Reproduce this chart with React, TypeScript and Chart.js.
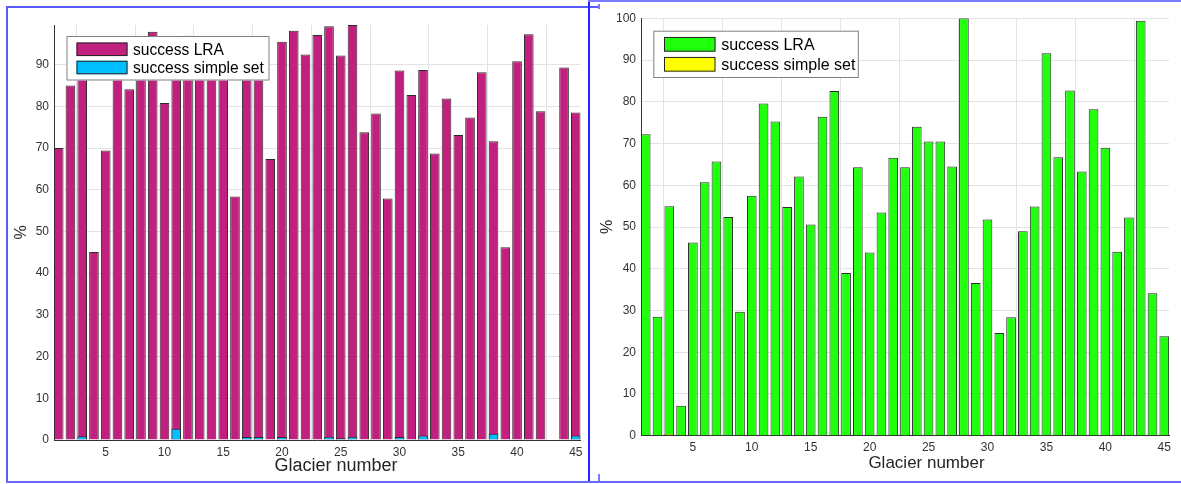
import React, { useEffect, useRef } from "react";
import { Chart, registerables } from "chart.js";

Chart.register(...registerables);

const FONT = '"Liberation Sans", Arial, Helvetica, sans-serif';

// Glacier numbers (x categories)
const glacierNumbers = [
  1, 2, 3, 4, 5, 6, 7, 8, 9, 10, 11, 12, 13, 14, 15, 16, 17, 18, 19, 20, 21, 22, 23,
  24, 25, 26, 27, 28, 29, 30, 31, 32, 33, 34, 35, 36, 37, 38, 39, 40, 41, 42, 43, 44, 45,
];

const seriesLabels = ["success LRA", "success simple set"];

// Left panel
const leftLRA = [
  70.0, 85.0, 92.0, 45.1, 69.4, 93.0, 84.1, 91.0, 97.9, 80.8, 92.0, 96.9, 94.0, 90.0, 92.0,
  58.4, 93.0, 90.0, 67.4, 95.5, 98.1, 92.4, 97.1, 99.2, 92.2, 99.5, 73.8, 78.3, 57.9, 88.6,
  82.7, 88.7, 68.7, 81.9, 73.1, 77.3, 88.2, 71.6, 46.2, 90.8, 97.3, 78.8, 0, 89.3, 78.5,
];
const leftSimple = [
  0, 0, 0.9, 0, 0, 0.2, 0.1, 0, 0, 0, 2.7, 0, 0, 0, 0, 0, 0.7, 0.7, 0, 0.7, 0.2, 0.2, 0,
  0.8, 0.4, 0.8, 0, 0, 0, 0.7, 0.2, 1.1, 0, 0, 0, 0.2, 0, 1.5, 0, 0, 0, 0, 0, 0, 1.1,
];

// Right panel
const rightLRA = [
  72.2, 28.5, 55.0, 7.2, 46.3, 60.7, 65.7, 52.4, 29.7, 57.5, 79.6, 75.3, 54.8, 62.1, 50.6,
  76.4, 82.6, 39.0, 64.3, 43.9, 53.5, 66.6, 64.3, 74.0, 70.5, 70.5, 64.5, 100, 36.6, 51.8,
  24.6, 28.4, 49.0, 54.9, 91.6, 66.7, 82.7, 63.3, 78.2, 69.0, 44.1, 52.3, 99.4, 34.1, 23.8,
];
const rightSimple = [
  0, 0, 0.4, 0, 0, 0, 0, 0, 0, 0, 0.1, 0, 0, 0, 0, 0, 0, 0, 0, 0, 0, 0, 0, 0, 0, 0, 0, 0,
  0, 0, 0.2, 0, 0, 0, 0, 0, 0, 0, 0, 0, 0, 0, 0, 0, 0,
];

const boxLegendPlugin = {
  id: "boxLegend",
  afterDatasetsDraw(chart: any, _args: any, o: any) {
    const ctx = chart.ctx;
    ctx.save();
    ctx.fillStyle = "#ffffff";
    ctx.fillRect(o.x, o.y, o.w, o.h);
    ctx.strokeStyle = "#808080";
    ctx.lineWidth = 1;
    ctx.strokeRect(o.x + 0.5, o.y + 0.5, o.w - 1, o.h - 1);
    chart.data.datasets.forEach((ds: any, i: number) => {
      const cy = o.row0 + i * o.rowStep;
      ctx.fillStyle = ds.backgroundColor;
      ctx.fillRect(o.sx, cy - o.sh / 2, o.sw, o.sh);
      ctx.strokeStyle = "#262626";
      ctx.strokeRect(o.sx + 0.5, cy - o.sh / 2 + 0.5, o.sw - 1, o.sh - 1);
      ctx.fillStyle = "#000000";
      ctx.font = `${o.fs}px ${FONT}`;
      ctx.textBaseline = "middle";
      ctx.textAlign = "left";
      ctx.fillText(ds.label, o.tx, cy + 1);
    });
    ctx.restore();
  },
  afterDraw(chart: any, _args: any, o: any) {
    const ctx = chart.ctx;
    ctx.save();
    ctx.fillStyle = "#262626";
    ctx.font = `${o.xlFs}px ${FONT}`;
    ctx.textAlign = "center";
    ctx.textBaseline = "alphabetic";
    ctx.fillText(o.xlabel, o.xlX, o.xlY);
    ctx.restore();
  },
};

type PanelProps = {
  lra: number[];
  simple: number[];
  lraColor: string;
  simpleColor: string;
  yMax: number;
  width: number;
  height: number;
  area: { left: number; right: number; top: number; bottom: number };
  yTitlePad: number;
  legend: any;
};

function Panel(p: PanelProps) {
  const ref = useRef<HTMLCanvasElement | null>(null);
  useEffect(() => {
    if (!ref.current) return;
    const chart = new Chart(ref.current, {
      type: "bar",
      data: {
        datasets: [
          {
            label: seriesLabels[0],
            data: glacierNumbers.map((g, i) => ({ x: g, y: p.lra[i] })),
            backgroundColor: p.lraColor,
            borderColor: "#2a2a2a",
            borderWidth: 1,
            grouped: false,
            order: 1,
            categoryPercentage: 1,
            barPercentage: 0.82,
          } as any,
          {
            label: seriesLabels[1],
            data: glacierNumbers.map((g, i) => ({ x: g, y: p.simple[i] })),
            backgroundColor: p.simpleColor,
            borderColor: "#2a2a2a",
            borderWidth: 1,
            grouped: false,
            order: 0,
            categoryPercentage: 1,
            barPercentage: 0.82,
          } as any,
        ],
      },
      options: {
        animation: false,
        responsive: false,
        maintainAspectRatio: false,
        devicePixelRatio: 1,
        layout: {
          padding: {
            left: 0,
            top: p.area.top,
            right: p.width - p.area.right,
            bottom: 0,
          },
        },
        plugins: {
          legend: { display: false },
          tooltip: { enabled: false },
          boxLegend: p.legend,
        } as any,
        scales: {
          x: {
            type: "linear",
            min: 0.6,
            max: 45.4,
            offset: false,
            ticks: {
              stepSize: 5,
              includeBounds: false,
              padding: 5,
              color: "#333333",
              font: { size: 12, family: FONT },
              maxRotation: 0,
              autoSkip: false,
            },
            grid: { color: "#e3e3e3", drawTicks: false, lineWidth: 1 },
            border: { display: true, color: "#333333", width: 1 },
            afterFit: (s: any) => {
              s.height = p.height - p.area.bottom;
            },
          } as any,
          y: {
            min: 0,
            max: p.yMax,
            ticks: {
              stepSize: 10,
              includeBounds: false,
              padding: 5,
              color: "#333333",
              font: { size: 12, family: FONT },
            },
            grid: { color: "#e3e3e3", drawTicks: false, lineWidth: 1 },
            border: { display: true, color: "#333333", width: 1 },
            title: {
              display: true,
              text: "%",
              color: "#262626",
              font: { size: 16, family: FONT },
              padding: { top: p.yTitlePad, bottom: 0 },
            },
            afterFit: (s: any) => {
              s.width = p.area.left;
            },
          } as any,
        },
      },
      plugins: [boxLegendPlugin as any],
    });
    return () => chart.destroy();
  }, []);
  return (
    <canvas
      ref={ref}
      width={p.width}
      height={p.height}
      style={{ width: p.width, height: p.height, display: "block" }}
    />
  );
}

const line = (s: React.CSSProperties): React.CSSProperties => ({
  position: "absolute",
  pointerEvents: "none",
  ...s,
});

export default function App() {
  useEffect(() => {
    document.body.style.margin = "0";
    document.body.style.background = "#ffffff";
  }, []);
  return (
    <div style={{ position: "relative", width: 1181, height: 484, overflow: "hidden", background: "#fff" }}>
      <div style={{ position: "absolute", left: 0, top: 0 }}>
        <Panel
          lra={leftLRA}
          simple={leftSimple}
          lraColor="#C2207F"
          simpleColor="#00BFFF"
          yMax={99.5}
          width={590}
          height={484}
          area={{ left: 54, right: 580.5, top: 25, bottom: 440 }}
          yTitlePad={12}
          legend={{
            x: 66.5, y: 36, w: 203, h: 44.5,
            sx: 76.5, sw: 51, sh: 13.5, row0: 49.3, rowStep: 18.2,
            tx: 133, fs: 15.6,
            xlabel: "Glacier number", xlX: 336, xlY: 471, xlFs: 18,
          }}
        />
      </div>
      <div style={{ position: "absolute", left: 590, top: 0 }}>
        <Panel
          lra={rightLRA}
          simple={rightSimple}
          lraColor="#20FF0C"
          simpleColor="#FFFF00"
          yMax={100}
          width={591}
          height={484}
          area={{ left: 51, right: 579, top: 18.3, bottom: 435.7 }}
          yTitlePad={8}
          legend={{
            x: 63.3, y: 30.7, w: 205.5, h: 47.3,
            sx: 74, sw: 51.5, sh: 14.7, row0: 44.3, rowStep: 20,
            tx: 131.2, fs: 16,
            xlabel: "Glacier number", xlX: 336.5, xlY: 468, xlFs: 17,
          }}
        />
      </div>
      {/* blue frame lines */}
      <div style={line({ left: 6, top: 6, width: 594, height: 1.5, background: "#5a5aff" })} />
      <div style={line({ left: 6, top: 6, width: 1.5, height: 476, background: "#5a5aff" })} />
      <div style={line({ left: 588, top: 0, width: 1.5, height: 481, background: "#2323ff" })} />
      <div style={line({ left: 588, top: 0, width: 593, height: 1.5, background: "#7a7aff" })} />
      <div style={line({ left: 598, top: 4, width: 1.5, height: 5, background: "#7a7aff" })} />
      <div style={line({ left: 598, top: 474, width: 1.5, height: 7, background: "#7a7aff" })} />
      <div style={line({ left: 6, top: 481, width: 1175, height: 1.5, background: "#6a6aff" })} />
    </div>
  );
}
